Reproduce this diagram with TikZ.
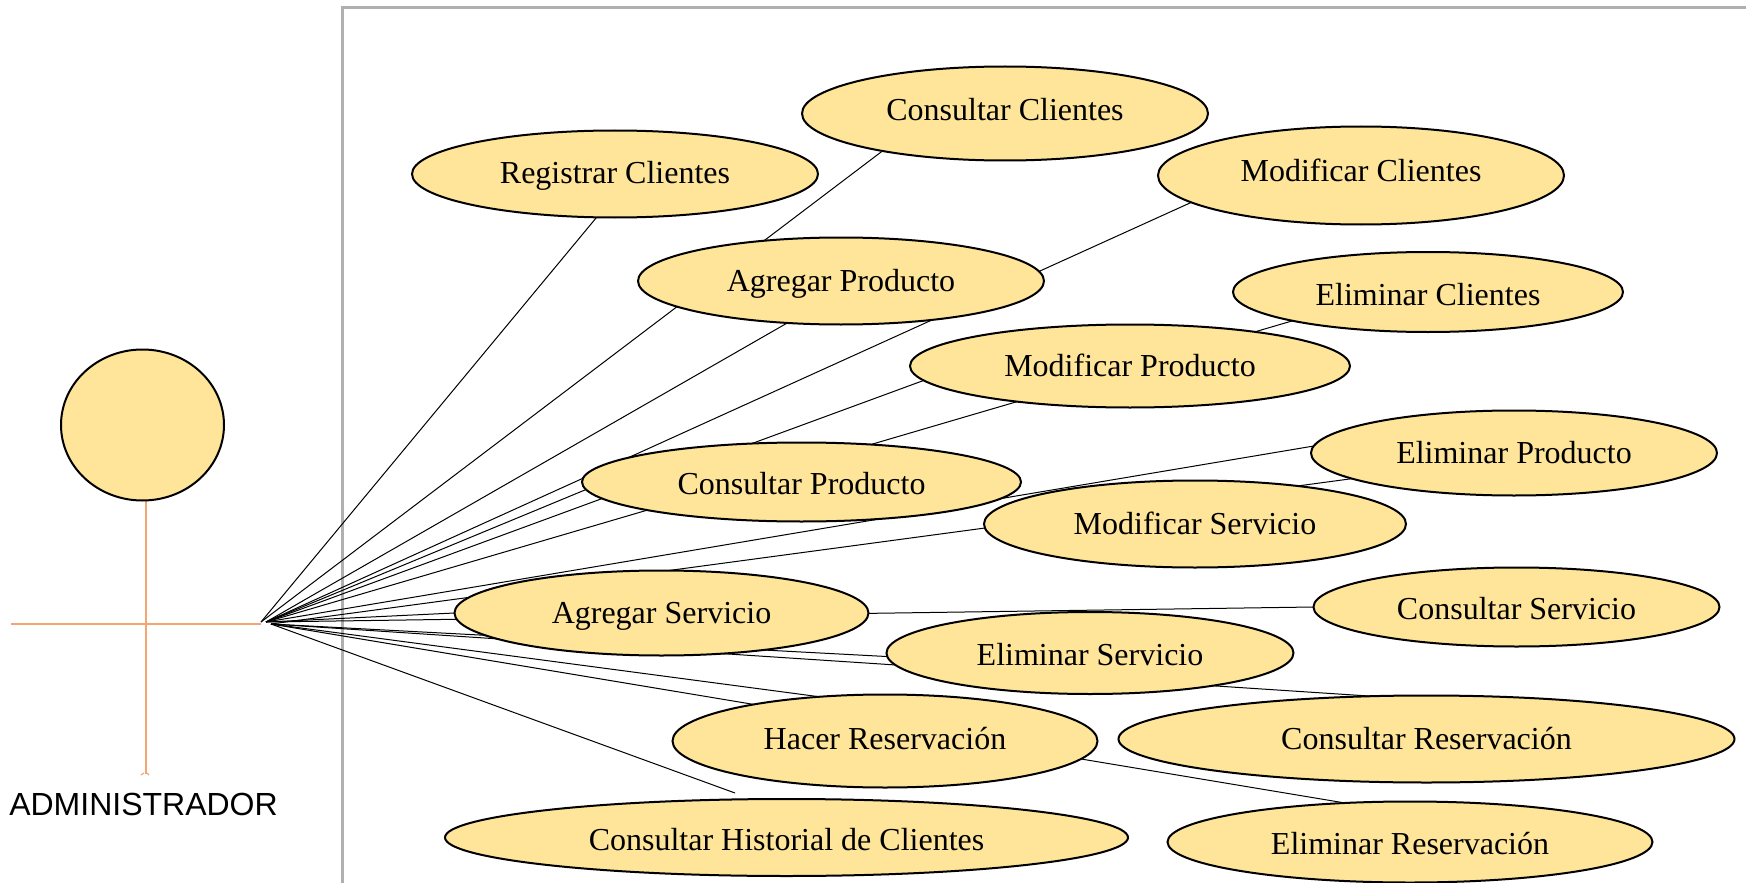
\documentclass[tikz,border=0pt]{standalone}
\usepackage{fontspec}
\setmainfont{Liberation Serif}
\setsansfont{Liberation Sans}
\usepackage{xcolor}
\usetikzlibrary{shapes.geometric, backgrounds}
\definecolor{usefill}{HTML}{FEE599}
\definecolor{stickcol}{HTML}{F4A570}
\definecolor{framecol}{HTML}{B0B0B0}
\tikzset{
    usecase/.style={ellipse, draw=black, fill=usefill, line width=1pt, inner sep=0pt, outer sep=0pt,
        text depth=0pt, font=\fontsize{16}{18}\selectfont},
    stick/.style={stickcol, line width=0.6pt},
    assoc/.style={black, line width=0.5pt}
}

\begin{document}
\begin{tikzpicture}[x=0.5pt, y=-0.5pt]
    \useasboundingbox (0,0) rectangle (1746,883);
    % Actor
    \node[ellipse, draw=black, fill=usefill, line width=1pt, minimum width=81.5pt, minimum height=75.5pt, inner sep=0pt, outer sep=0pt] (head) at (142.5,425) {};
    \node[font=\sffamily\fontsize{16}{18}\selectfont, inner sep=0pt] (admin) at (143.5,804) {ADMINISTRADOR};
    \coordinate (neck) at (146,500);
    \coordinate (foot) at (146,774);
    \coordinate (armL) at (11,624);
    \coordinate (armR) at (261,624);
    \coordinate (handA) at (261,622);
    \coordinate (handB) at (266,622);
    \coordinate (handC) at (271,624);
    \coordinate (histEnd) at (735,793);
    % Use cases
    \node[usecase, minimum width=203pt, minimum height=47pt, text height=7.4pt] (conCli) at (1005,113.5) {Consultar Clientes};
    \node[usecase, minimum width=203pt, minimum height=43.5pt, text height=9.6pt] (regCli) at (615,174) {Registrar Clientes};
    \node[usecase, minimum width=203pt, minimum height=49pt, text height=6.2pt] (modCli) at (1361,175.5) {Modificar Clientes};
    \node[usecase, minimum width=203pt, minimum height=43.5pt, text height=10.8pt] (agrPro) at (841,281) {Agregar Producto};
    \node[usecase, minimum width=195pt, minimum height=40pt, text height=13pt] (eliCli) at (1428,292) {Eliminar Clientes};
    \node[usecase, minimum width=220pt, minimum height=41.5pt, text height=10.2pt] (modPro) at (1130,366) {Modificar Producto};
    \node[usecase, minimum width=219.5pt, minimum height=39.5pt, text height=12.9pt] (conPro) at (801.5,482) {Consultar Producto};
    \node[usecase, minimum width=203pt, minimum height=42.5pt, text height=10.7pt] (eliPro) at (1514,453) {Eliminar Producto};
    \node[usecase, minimum width=211pt, minimum height=43.5pt, text height=10.2pt] (modSer) at (1195,524) {Modificar Servicio};
    \node[usecase, minimum width=207pt, minimum height=42.5pt, text height=10.8pt] (agrSer) at (661.5,613) {Agregar Servicio};
    \node[usecase, minimum width=203pt, minimum height=39.5pt, text height=12.9pt] (conSer) at (1516.5,607) {Consultar Servicio};
    \node[usecase, minimum width=203.5pt, minimum height=41pt, text height=12.9pt] (eliSer) at (1090,653) {Eliminar Servicio};
    \node[usecase, minimum width=212.5pt, minimum height=46.5pt, text height=8.5pt] (hacRes) at (885,741) {Hacer Reservación};
    \node[usecase, minimum width=308pt, minimum height=43.5pt, text height=10.7pt] (conRes) at (1426.5,739) {Consultar Reservación};
    \node[usecase, minimum width=341.5pt, minimum height=38.5pt, text height=12.9pt] (conHis) at (786.5,837.5) {Consultar Historial de Clientes};
    \node[usecase, minimum width=242.5pt, minimum height=40.5pt, text height=12.6pt] (eliRes) at (1410,842) {Eliminar Reservación};
    \begin{scope}[on background layer]
        % Frame
        \draw[framecol, line width=1.5pt] (342,883) -- (342,8) -- (1746,8);
        % Stick figure
        \draw[stick] (armL) -- (armR);
        \draw[stick] (neck) -- (foot);
        \draw[stick] (141,775) -- (144,773) (147,773) -- (149,775);
        % Associations
        \foreach \hand/\usecase/\ang in {handA/regCli/-113.8, handA/conCli/-163.1, handB/agrPro/-142,
            handB/modCli/-171.3, handB/conPro/-178, handB/eliCli/-168, handB/modPro/-176.5,
            handB/eliPro/178.6, handC/eliPro/-171.2, handB/agrSer/180, handB/conSer/180,
            handC/eliSer/-179, handC/conRes/142.5, handC/hacRes/146.5, handC/eliRes/149.5}
            \draw[assoc] (\hand) -- (\usecase.\ang);
        \draw[assoc] (handC) -- (histEnd);
    \end{scope}
\end{tikzpicture}
\end{document}
